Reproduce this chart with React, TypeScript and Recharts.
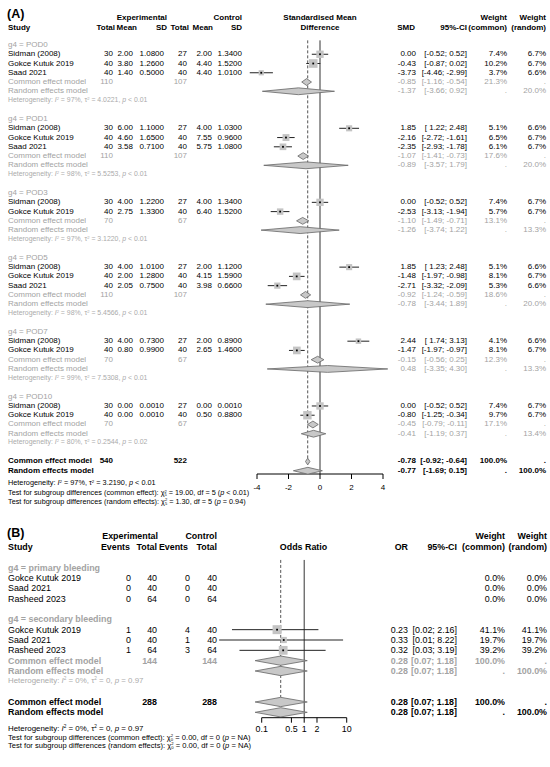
import React from 'react';
import { ScatterChart, Scatter, XAxis, YAxis, ErrorBar, ReferenceLine } from 'recharts';

const FONT = '"Liberation Sans", Arial, sans-serif';

// ---------- panel A: standardised mean difference ----------
// [study, expTotal, expMean, expSD, ctlTotal, ctlMean, ctlSD, smd, lo, hi, wCommon, wRandom]
type StudyA = [string, number, number, number, number, number, number, number, number, number, number, number];

const pod0: StudyA[] = [
  ['Sidman (2008)', 30, 2.0, 1.08, 27, 2.0, 1.34, 0.0, -0.52, 0.52, 7.4, 6.7],
  ['Gokce Kutuk 2019', 40, 3.8, 1.26, 40, 4.4, 1.52, -0.43, -0.87, 0.02, 10.2, 6.7],
  ['Saad 2021', 40, 1.4, 0.5, 40, 4.4, 1.01, -3.73, -4.46, -2.99, 3.7, 6.6],
];
const pod1: StudyA[] = [
  ['Sidman (2008)', 30, 6.0, 1.1, 27, 4.0, 1.03, 1.85, 1.22, 2.48, 5.1, 6.6],
  ['Gokce Kutuk 2019', 40, 4.6, 1.65, 40, 7.55, 0.96, -2.16, -2.72, -1.61, 6.5, 6.7],
  ['Saad 2021', 40, 3.58, 0.71, 40, 5.75, 1.08, -2.35, -2.93, -1.78, 6.1, 6.7],
];
const pod3: StudyA[] = [
  ['Sidman (2008)', 30, 4.0, 1.22, 27, 4.0, 1.34, 0.0, -0.52, 0.52, 7.4, 6.7],
  ['Gokce Kutuk 2019', 40, 2.75, 1.33, 40, 6.4, 1.52, -2.53, -3.13, -1.94, 5.7, 6.7],
];
const pod5: StudyA[] = [
  ['Sidman (2008)', 30, 4.0, 1.01, 27, 2.0, 1.12, 1.85, 1.23, 2.48, 5.1, 6.6],
  ['Gokce Kutuk 2019', 40, 2.0, 1.28, 40, 4.15, 1.59, -1.48, -1.97, -0.98, 8.1, 6.7],
  ['Saad 2021', 40, 2.05, 0.75, 40, 3.98, 0.66, -2.71, -3.32, -2.09, 5.3, 6.6],
];
const pod7: StudyA[] = [
  ['Sidman (2008)', 30, 4.0, 0.73, 27, 2.0, 0.89, 2.44, 1.74, 3.13, 4.1, 6.6],
  ['Gokce Kutuk 2019', 40, 0.8, 0.99, 40, 2.65, 1.46, -1.47, -1.97, -0.97, 8.1, 6.7],
];
const pod10: StudyA[] = [
  ['Sidman (2008)', 30, 0.0, 0.001, 27, 0.0, 0.001, 0.0, -0.52, 0.52, 7.4, 6.7],
  ['Gokce Kutuk 2019', 40, 0.0, 0.001, 40, 0.5, 0.88, -0.8, -1.25, -0.34, 9.7, 6.7],
];

const groupLabelsA = ['g4 = POD0', 'g4 = POD1', 'g4 = POD3', 'g4 = POD5', 'g4 = POD7', 'g4 = POD10'];
const studiesA = [pod0, pod1, pod3, pod5, pod7, pod10];
const groupTotalsA = [[110, 107], [110, 107], [70, 67], [110, 107], [70, 67], [70, 67]];
// [est, lo, hi, weight]
const commonA = [
  [-0.85, -1.16, -0.54, 21.3], [-1.07, -1.41, -0.73, 17.6], [-1.1, -1.49, -0.71, 13.1],
  [-0.92, -1.24, -0.59, 18.6], [-0.15, -0.56, 0.25, 12.3], [-0.45, -0.79, -0.11, 17.1],
];
const randomA = [
  [-1.37, -3.66, 0.92, 20.0], [-0.89, -3.57, 1.79, 20.0], [-1.26, -3.74, 1.22, 13.3],
  [-0.78, -3.44, 1.89, 20.0], [0.48, -3.35, 4.3, 13.3], [-0.41, -1.19, 0.37, 13.4],
];
// [I2, tau2, p]
const hetA = [
  ['97%', '4.0221', '< 0.01'], ['98%', '5.5253', '< 0.01'], ['97%', '3.1220', '< 0.01'],
  ['98%', '5.4566', '< 0.01'], ['99%', '7.5308', '< 0.01'], ['80%', '0.2544', '= 0.02'],
];
const overallTotalsA = [540, 522];
const overallCommonA = [-0.78, -0.92, -0.64];
const overallRandomA = [-0.77, -1.69, 0.15];
const overallHetA = ['97%', '3.2190', '< 0.01'];
const ticksA = [-4, -2, 0, 2, 4];

// ---------- panel B: odds ratio ----------
// [study, expEvents, expTotal, ctlEvents, ctlTotal, or, lo, hi, wCommon, wRandom]
type StudyB = [string, number, number, number, number, number | null, number | null, number | null, number, number];

const primaryB: StudyB[] = [
  ['Gokce Kutuk 2019', 0, 40, 0, 40, null, null, null, 0.0, 0.0],
  ['Saad 2021', 0, 40, 0, 40, null, null, null, 0.0, 0.0],
  ['Rasheed 2023', 0, 64, 0, 64, null, null, null, 0.0, 0.0],
];
const secondaryB: StudyB[] = [
  ['Gokce Kutuk 2019', 1, 40, 4, 40, 0.23, 0.02, 2.16, 41.1, 41.1],
  ['Saad 2021', 0, 40, 1, 40, 0.33, 0.01, 8.22, 19.7, 19.7],
  ['Rasheed 2023', 1, 64, 3, 64, 0.32, 0.03, 3.19, 39.2, 39.2],
];
const secondaryTotalsB = [144, 144];
const secondaryCommonB = [0.28, 0.07, 1.18];
const secondaryRandomB = [0.28, 0.07, 1.18];
const overallTotalsB = [288, 288];
const overallCommonB = [0.28, 0.07, 1.18];
const overallRandomB = [0.28, 0.07, 1.18];
const ticksB = [0.1, 0.5, 1, 2, 10];

// ---------- helpers ----------
const rowA = (r: number) => 45 + 9.255 * r;
const rowB = (r: number) => 567.7 + 10.33 * r;
const GREY = '#a3a3a3';
const HGREY = '#ababab';

function Txt({ x, y, a = 'l', size = 8, color = '#000', bold = false, children }: any) {
  const tx = a === 'r' ? '-100%' : a === 'c' ? '-50%' : '0';
  return (
    <div
      style={{
        position: 'absolute', left: x, top: y, transform: `translate(${tx}, -50%)`,
        fontSize: size, fontWeight: bold ? 700 : 400, color, whiteSpace: 'pre', lineHeight: 1,
        fontFamily: FONT,
      }}
    >
      {children}
    </div>
  );
}

const Sup = ({ c }: any) => <sup style={{ fontSize: '0.6em', verticalAlign: '0.6em' }}>{c}</sup>;
const Chi = ({ df }: any) => (
  <span>
    χ
    <span style={{ display: 'inline-flex', flexDirection: 'column', fontSize: '0.55em', lineHeight: 0.9, verticalAlign: 'middle' }}>
      <span>2</span>
      <span>{df}</span>
    </span>
  </span>
);
const Het = ({ i2, tau, p }: any) => (
  <span>
    Heterogeneity: <i>I</i><Sup c="2" /> = {i2}, τ<Sup c="2" /> = {tau}, <i>p</i> {p}
  </span>
);

const ciA = (lo: number, hi: number) => `[${lo < 0 ? '' : ' '}${lo.toFixed(2)}; ${hi.toFixed(2)}]`;
const ciB = (lo: number, hi: number) => `[${lo.toFixed(2)}; ${hi.toFixed(2)}]`;

const diamond = (est: number, lo: number, hi: number, row: number, h: number) => [
  { x: lo, y: row }, { x: est, y: row - h }, { x: hi, y: row }, { x: est, y: row + h }, { x: lo, y: row },
];

const squareShape = (k: number) => (props: any) => {
  const { cx, cy, payload } = props;
  const s = k * Math.sqrt(payload.w);
  return <rect x={cx - s / 2} y={cy - s / 2} width={s} height={s} fill="#c4c4c4" />;
};
const dotShape = (props: any) => (
  <rect x={props.cx - 0.9} y={props.cy - 0.9} width={1.8} height={1.8} fill="#000" />
);
const noShape = () => <g />;

// columns
const cA = { eN: 113, eM: 133, eS: 164, cN: 187, cM: 212, cS: 242, smd: 416, ci: 467, wc: 507, wr: 546 };
const cB = { eE: 131, eN: 157, cE: 190, cN: 217, or: 408, ci: 457, wc: 505, wr: 547 };

export default function App() {
  // ----- build panel A rows -----
  const textA: React.ReactNode[] = [];
  const squaresA: any[] = [];
  const diamondsA: { pts: any[]; key: string }[] = [];
  let r0 = 0;
  studiesA.forEach((studies, g) => {
    textA.push(<Txt key={`gl${g}`} x={8} y={rowA(r0)} color={GREY}>{groupLabelsA[g]}</Txt>);
    studies.forEach((s, i) => {
      const y = rowA(r0 + 1 + i);
      const k = `s${g}-${i}`;
      textA.push(
        <Txt key={k + 'n'} x={8} y={y}>{s[0]}</Txt>,
        <Txt key={k + 'a'} x={cA.eN} y={y} a="r">{s[1]}</Txt>,
        <Txt key={k + 'b'} x={cA.eM} y={y} a="r">{s[2].toFixed(2)}</Txt>,
        <Txt key={k + 'c'} x={cA.eS} y={y} a="r">{s[3].toFixed(4)}</Txt>,
        <Txt key={k + 'd'} x={cA.cN} y={y} a="r">{s[4]}</Txt>,
        <Txt key={k + 'e'} x={cA.cM} y={y} a="r">{s[5].toFixed(2)}</Txt>,
        <Txt key={k + 'f'} x={cA.cS} y={y} a="r">{s[6].toFixed(4)}</Txt>,
        <Txt key={k + 'g'} x={cA.smd} y={y} a="r">{s[7].toFixed(2)}</Txt>,
        <Txt key={k + 'h'} x={cA.ci} y={y} a="r">{ciA(s[8], s[9])}</Txt>,
        <Txt key={k + 'i'} x={cA.wc} y={y} a="r">{s[10].toFixed(1) + '%'}</Txt>,
        <Txt key={k + 'j'} x={cA.wr} y={y} a="r">{s[11].toFixed(1) + '%'}</Txt>,
      );
      squaresA.push({ x: s[7], y: r0 + 1 + i, w: s[10], err: [s[7] - s[8], s[9] - s[7]] });
    });
    const rc = r0 + studies.length + 1;
    const rr = rc + 1;
    const cm = commonA[g];
    const rm = randomA[g];
    textA.push(
      <Txt key={`c${g}n`} x={8} y={rowA(rc)} color={GREY}>Common effect model</Txt>,
      <Txt key={`c${g}a`} x={cA.eN} y={rowA(rc)} a="r" color={GREY}>{groupTotalsA[g][0]}</Txt>,
      <Txt key={`c${g}b`} x={cA.cN} y={rowA(rc)} a="r" color={GREY}>{groupTotalsA[g][1]}</Txt>,
      <Txt key={`c${g}c`} x={cA.smd} y={rowA(rc)} a="r" color={GREY}>{cm[0].toFixed(2)}</Txt>,
      <Txt key={`c${g}d`} x={cA.ci} y={rowA(rc)} a="r" color={GREY}>{ciA(cm[1], cm[2])}</Txt>,
      <Txt key={`c${g}e`} x={cA.wc} y={rowA(rc)} a="r" color={GREY}>{cm[3].toFixed(1) + '%'}</Txt>,
      <Txt key={`c${g}f`} x={cA.wr} y={rowA(rc)} a="r" color={GREY}>.</Txt>,
      <Txt key={`r${g}n`} x={8} y={rowA(rr)} color={GREY}>Random effects model</Txt>,
      <Txt key={`r${g}c`} x={cA.smd} y={rowA(rr)} a="r" color={GREY}>{rm[0].toFixed(2)}</Txt>,
      <Txt key={`r${g}d`} x={cA.ci} y={rowA(rr)} a="r" color={GREY}>{ciA(rm[1], rm[2])}</Txt>,
      <Txt key={`r${g}e`} x={cA.wc} y={rowA(rr)} a="r" color={GREY}>.</Txt>,
      <Txt key={`r${g}f`} x={cA.wr} y={rowA(rr)} a="r" color={GREY}>{rm[3].toFixed(1) + '%'}</Txt>,
      <Txt key={`h${g}`} x={8} y={rowA(rr + 1)} size={6.9} color={HGREY}>
        <Het i2={hetA[g][0]} tau={hetA[g][1]} p={hetA[g][2]} />
      </Txt>,
    );
    diamondsA.push({ key: `dc${g}`, pts: diamond(cm[0], cm[1], cm[2], rc, 0.37) });
    diamondsA.push({ key: `dr${g}`, pts: diamond(rm[0], rm[1], rm[2], rr, 0.37) });
    r0 += studies.length + 5;
  });
  const oc = r0;
  const or = r0 + 1;
  diamondsA.push({ key: 'doc', pts: diamond(overallCommonA[0], overallCommonA[1], overallCommonA[2], oc, 0.37) });
  diamondsA.push({ key: 'dor', pts: diamond(overallRandomA[0], overallRandomA[1], overallRandomA[2], or, 0.37) });

  // ----- build panel B rows -----
  const textB: React.ReactNode[] = [];
  const squaresB: any[] = [];
  const fsB = 8.9;
  const studyRowB = (s: StudyB, r: number, k: string) => {
    const y = rowB(r);
    textB.push(
      <Txt key={k + 'n'} x={8} y={y} size={fsB}>{s[0]}</Txt>,
      <Txt key={k + 'a'} x={cB.eE} y={y} a="r" size={fsB}>{s[1]}</Txt>,
      <Txt key={k + 'b'} x={cB.eN} y={y} a="r" size={fsB}>{s[2]}</Txt>,
      <Txt key={k + 'c'} x={cB.cE} y={y} a="r" size={fsB}>{s[3]}</Txt>,
      <Txt key={k + 'd'} x={cB.cN} y={y} a="r" size={fsB}>{s[4]}</Txt>,
      <Txt key={k + 'i'} x={cB.wc} y={y} a="r" size={fsB}>{s[8].toFixed(1) + '%'}</Txt>,
      <Txt key={k + 'j'} x={cB.wr} y={y} a="r" size={fsB}>{s[9].toFixed(1) + '%'}</Txt>,
    );
    if (s[5] !== null) {
      textB.push(
        <Txt key={k + 'g'} x={cB.or} y={y} a="r" size={fsB}>{(s[5] as number).toFixed(2)}</Txt>,
        <Txt key={k + 'h'} x={cB.ci} y={y} a="r" size={fsB}>{ciB(s[6] as number, s[7] as number)}</Txt>,
      );
      squaresB.push({ x: s[5], y: r, w: s[8], err: [(s[5] as number) - (s[6] as number), (s[7] as number) - (s[5] as number)] });
    }
  };
  textB.push(<Txt key="pl" x={8} y={rowB(0)} size={fsB} color={GREY} bold>g4 = primary bleeding</Txt>);
  primaryB.forEach((s, i) => studyRowB(s, 1 + i, `p${i}`));
  textB.push(<Txt key="sl" x={8} y={rowB(5)} size={fsB} color={GREY} bold>g4 = secondary bleeding</Txt>);
  secondaryB.forEach((s, i) => studyRowB(s, 6 + i, `q${i}`));
  const sumRowB = (label: string, r: number, tot: number[] | null, est: number[], common: boolean, color: string, k: string) => {
    const y = rowB(r);
    textB.push(
      <Txt key={k + 'n'} x={8} y={y} size={fsB} color={color} bold>{label}</Txt>,
      <Txt key={k + 'g'} x={cB.or} y={y} a="r" size={fsB} color={color} bold>{est[0].toFixed(2)}</Txt>,
      <Txt key={k + 'h'} x={cB.ci} y={y} a="r" size={fsB} color={color} bold>{ciB(est[1], est[2])}</Txt>,
      <Txt key={k + 'i'} x={cB.wc} y={y} a="r" size={fsB} color={color} bold>{common ? '100.0%' : '.'}</Txt>,
      <Txt key={k + 'j'} x={cB.wr} y={y} a="r" size={fsB} color={color} bold>{common ? '.' : '100.0%'}</Txt>,
    );
    if (tot) {
      textB.push(
        <Txt key={k + 'b'} x={cB.eN} y={y} a="r" size={fsB} color={color} bold>{tot[0]}</Txt>,
        <Txt key={k + 'd'} x={cB.cN} y={y} a="r" size={fsB} color={color} bold>{tot[1]}</Txt>,
      );
    }
  };
  sumRowB('Common effect model', 9, secondaryTotalsB, secondaryCommonB, true, GREY, 'sc');
  sumRowB('Random effects model', 10, null, secondaryRandomB, false, GREY, 'sr');
  sumRowB('Common effect model', 13, overallTotalsB, overallCommonB, true, '#000', 'oc');
  sumRowB('Random effects model', 14, null, overallRandomB, false, '#000', 'or');
  const diamondsB = [
    { key: 'b1', pts: diamond(secondaryCommonB[0], secondaryCommonB[1], secondaryCommonB[2], 9, 0.45) },
    { key: 'b2', pts: diamond(secondaryRandomB[0], secondaryRandomB[1], secondaryRandomB[2], 10, 0.45) },
    { key: 'b3', pts: diamond(overallCommonB[0], overallCommonB[1], overallCommonB[2], 13, 0.45) },
    { key: 'b4', pts: diamond(overallRandomB[0], overallRandomB[1], overallRandomB[2], 14, 0.45) },
  ];

  const H = (props: any) => <Txt bold {...props} />;

  return (
    <div style={{ position: 'absolute', left: 0, top: 0, width: 550, height: 767, background: '#fff', overflow: 'hidden', fontFamily: FONT }}>
      {/* panel A chart */}
      <div style={{ position: 'absolute', left: 0, top: 0 }}>
        <ScatterChart width={550} height={499} margin={{ top: 40.37, right: 151.25, bottom: 0, left: 241.25 }}>
          <XAxis
            type="number" dataKey="x" domain={[-5, 5]} allowDataOverflow ticks={ticksA} interval={0}
            axisLine={false} tickLine={{ stroke: '#000' }} tickSize={5} tickMargin={5} height={25}
            tick={{ fontSize: 8, fill: '#000', fontFamily: FONT }}
          />
          <YAxis type="number" dataKey="y" domain={[-0.5, 46.35]} reversed allowDataOverflow hide width={0} />
          <ReferenceLine x={0} stroke="#333" strokeWidth={1} />
          <ReferenceLine segment={[{ x: overallCommonA[0], y: -0.5 }, { x: overallCommonA[0], y: oc - 0.37 }]} stroke="#555" strokeDasharray="3 2" />
          <ReferenceLine segment={[{ x: -4, y: 46.35 }, { x: 4, y: 46.35 }]} stroke="#000" />
          {diamondsA.map((d) => (
            <Scatter key={d.key} data={d.pts} line={{ fill: '#c8c8c8', stroke: '#666', strokeWidth: 0.8 }} lineJointType="linear" shape={noShape} isAnimationActive={false} />
          ))}
          <Scatter data={squaresA} shape={squareShape(2.7)} isAnimationActive={false} />
          <Scatter data={squaresA} shape={dotShape} isAnimationActive={false}>
            <ErrorBar dataKey="err" direction="x" width={0} stroke="#222" strokeWidth={1} />
          </Scatter>
        </ScatterChart>
      </div>

      {/* panel B chart */}
      <div style={{ position: 'absolute', left: 0, top: 0 }}>
        <ScatterChart width={550} height={742.7} margin={{ top: 559.95, right: 190.5, bottom: 0, left: 206.4 }}>
          <XAxis
            type="number" dataKey="x" scale="log" domain={[0.005, 20]} allowDataOverflow ticks={ticksB} interval={0}
            axisLine={false} tickLine={{ stroke: '#000' }} tickSize={5} tickMargin={3} height={25}
            tick={{ fontSize: 8.9, fill: '#000', fontFamily: FONT }}
          />
          <YAxis type="number" dataKey="y" domain={[-0.75, 14.52]} reversed allowDataOverflow hide width={0} />
          <ReferenceLine x={1} stroke="#333" strokeWidth={1} />
          <ReferenceLine segment={[{ x: overallCommonB[0], y: -0.75 }, { x: overallCommonB[0], y: 12.55 }]} stroke="#555" strokeDasharray="3 2" />
          <ReferenceLine segment={[{ x: 0.1, y: 14.52 }, { x: 10, y: 14.52 }]} stroke="#000" />
          {diamondsB.map((d) => (
            <Scatter key={d.key} data={d.pts} line={{ fill: '#c8c8c8', stroke: '#666', strokeWidth: 0.8 }} lineJointType="linear" shape={noShape} isAnimationActive={false} />
          ))}
          <Scatter data={squaresB} shape={squareShape(1.4)} isAnimationActive={false} />
          <Scatter data={squaresB} shape={dotShape} isAnimationActive={false}>
            <ErrorBar dataKey="err" direction="x" width={0} stroke="#222" strokeWidth={1} />
          </Scatter>
        </ScatterChart>
      </div>

      {/* panel A text */}
      <Txt x={7} y={14} size={12.5} bold>(A)</Txt>
      <H x={167} y={18.3} a="r">Experimental</H>
      <H x={242} y={18.3} a="r">Control</H>
      <H x={320} y={18.3} a="c">Standardised Mean</H>
      <H x={507} y={18.3} a="r">Weight</H>
      <H x={546} y={18.3} a="r">Weight</H>
      <H x={8} y={27.5}>Study</H>
      <H x={115} y={27.5} a="r">Total</H>
      <H x={137} y={27.5} a="r">Mean</H>
      <H x={167} y={27.5} a="r">SD</H>
      <H x={189} y={27.5} a="r">Total</H>
      <H x={213} y={27.5} a="r">Mean</H>
      <H x={242} y={27.5} a="r">SD</H>
      <H x={320} y={27.5} a="c">Difference</H>
      <H x={415} y={27.5} a="r">SMD</H>
      <H x={467} y={27.5} a="r">95%-CI</H>
      <H x={507} y={27.5} a="r">(common)</H>
      <H x={546} y={27.5} a="r">(random)</H>
      {textA}
      <H x={8} y={rowA(oc)}>Common effect model</H>
      <H x={cA.eN} y={rowA(oc)} a="r">{overallTotalsA[0]}</H>
      <H x={cA.cN} y={rowA(oc)} a="r">{overallTotalsA[1]}</H>
      <H x={cA.smd} y={rowA(oc)} a="r">{overallCommonA[0].toFixed(2)}</H>
      <H x={cA.ci} y={rowA(oc)} a="r">{ciA(overallCommonA[1], overallCommonA[2])}</H>
      <H x={cA.wc} y={rowA(oc)} a="r">100.0%</H>
      <H x={cA.wr} y={rowA(oc)} a="r">.</H>
      <H x={8} y={rowA(or)}>Random effects model</H>
      <H x={cA.smd} y={rowA(or)} a="r">{overallRandomA[0].toFixed(2)}</H>
      <H x={cA.ci} y={rowA(or)} a="r">{ciA(overallRandomA[1], overallRandomA[2])}</H>
      <H x={cA.wc} y={rowA(or)} a="r">.</H>
      <H x={cA.wr} y={rowA(or)} a="r">100.0%</H>
      <Txt x={8} y={483.3} size={7.3}><Het i2={overallHetA[0]} tau={overallHetA[1]} p={overallHetA[2]} /></Txt>
      <Txt x={8} y={493.2} size={7.3}>
        Test for subgroup differences (common effect): <Chi df="5" /> = 19.00, df = 5 (<i>p</i> &lt; 0.01)
      </Txt>
      <Txt x={8} y={501.5} size={7.3}>
        Test for subgroup differences (random effects): <Chi df="5" /> = 1.30, df = 5 (<i>p</i> = 0.94)
      </Txt>

      {/* panel B text */}
      <Txt x={7} y={533} size={12.5} bold>(B)</Txt>
      <H x={158} y={536} a="r" size={fsB}>Experimental</H>
      <H x={217} y={536} a="r" size={fsB}>Control</H>
      <H x={505} y={536} a="r" size={fsB}>Weight</H>
      <H x={547} y={536} a="r" size={fsB}>Weight</H>
      <H x={8} y={547.3} size={fsB}>Study</H>
      <H x={130} y={547.3} a="r" size={fsB}>Events</H>
      <H x={157} y={547.3} a="r" size={fsB}>Total</H>
      <H x={188} y={547.3} a="r" size={fsB}>Events</H>
      <H x={217} y={547.3} a="r" size={fsB}>Total</H>
      <H x={303.5} y={547.3} a="c" size={fsB}>Odds Ratio</H>
      <H x={408} y={547.3} a="r" size={fsB}>OR</H>
      <H x={457} y={547.3} a="r" size={fsB}>95%-CI</H>
      <H x={505} y={547.3} a="r" size={fsB}>(common)</H>
      <H x={547} y={547.3} a="r" size={fsB}>(random)</H>
      {textB}
      <Txt x={8} y={rowB(11)} size={7.9} color={HGREY}><Het i2="0%" tau="0" p="= 0.97" /></Txt>
      <Txt x={8} y={729.3} size={7.9}><Het i2="0%" tau="0" p="= 0.97" /></Txt>
      <Txt x={8} y={737.8} size={7.6}>
        Test for subgroup differences (common effect): <Chi df="0" /> = 0.00, df = 0 (<i>p</i> = NA)
      </Txt>
      <Txt x={8} y={746.2} size={7.6}>
        Test for subgroup differences (random effects): <Chi df="0" /> = 0.00, df = 0 (<i>p</i> = NA)
      </Txt>
    </div>
  );
}
